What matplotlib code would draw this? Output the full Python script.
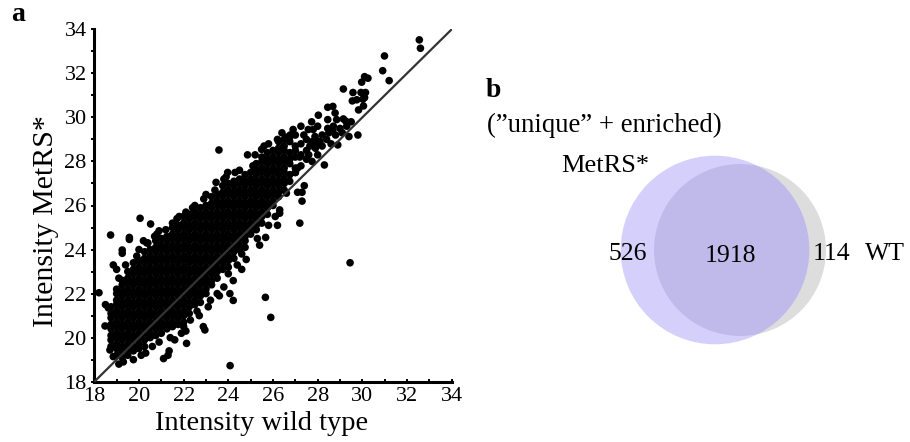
import numpy as np
import matplotlib
matplotlib.use("Agg")
import matplotlib.pyplot as plt
from matplotlib.patches import Circle

plt.rcParams['font.family'] = ['Liberation Serif', 'DejaVu Serif']

# ---- panel a: intensity scatter ----
# dense part of the cloud, column by column: wild type -> MetRS* values
core_cols = {
    18.75: [19.6, 19.9, 20.1, 20.4, 20.6, 20.9, 21.1, 21.4],
    19.00: [19.2, 19.5, 19.7, 20.0, 20.2, 20.5, 20.7, 21.0, 21.2, 21.5, 21.7, 22.0, 22.2],
    19.25: [19.1, 19.4, 19.6, 19.9, 20.1, 20.4, 20.6, 20.9, 21.1, 21.4, 21.6, 21.9, 22.1, 22.4, 22.6],
    19.50: [19.2, 19.5, 19.7, 20.0, 20.2, 20.5, 20.7, 21.0, 21.2, 21.5, 21.7, 22.0, 22.2, 22.5, 22.7, 23.0],
    19.75: [19.4, 19.6, 19.9, 20.1, 20.4, 20.6, 20.9, 21.1, 21.4, 21.6, 21.9, 22.1, 22.4, 22.6, 22.9, 23.1, 23.4],
    20.00: [19.5, 19.7, 20.0, 20.2, 20.5, 20.7, 21.0, 21.2, 21.5, 21.7, 22.0, 22.2, 22.5, 22.7, 23.0, 23.2, 23.5],
    20.25: [19.6, 19.9, 20.1, 20.4, 20.6, 20.9, 21.1, 21.4, 21.6, 21.9, 22.1, 22.4, 22.6, 22.9, 23.1, 23.4, 23.6, 23.9],
    20.50: [20.0, 20.2, 20.5, 20.7, 21.0, 21.2, 21.5, 21.7, 22.0, 22.2, 22.5, 22.7, 23.0, 23.2, 23.5, 23.7, 24.0],
    20.75: [20.1, 20.4, 20.6, 20.9, 21.1, 21.4, 21.6, 21.9, 22.1, 22.4, 22.6, 22.9, 23.1, 23.4, 23.6, 23.9, 24.1, 24.4],
    21.00: [20.2, 20.5, 20.7, 21.0, 21.2, 21.5, 21.7, 22.0, 22.2, 22.5, 22.7, 23.0, 23.2, 23.5, 23.7, 24.0, 24.2, 24.5],
    21.25: [20.4, 20.6, 20.9, 21.1, 21.4, 21.6, 21.9, 22.1, 22.4, 22.6, 22.9, 23.1, 23.4, 23.6, 23.9, 24.1, 24.4, 24.6],
    21.50: [20.5, 20.7, 21.0, 21.2, 21.5, 21.7, 22.0, 22.2, 22.5, 22.7, 23.0, 23.2, 23.5, 23.7, 24.0, 24.2, 24.5, 24.7, 25.0],
    21.75: [20.6, 20.9, 21.1, 21.4, 21.6, 21.9, 22.1, 22.4, 22.6, 22.9, 23.1, 23.4, 23.6, 23.9, 24.1, 24.4, 24.6, 24.9, 25.1],
    22.00: [20.7, 21.0, 21.2, 21.5, 21.7, 22.0, 22.2, 22.5, 22.7, 23.0, 23.2, 23.5, 23.7, 24.0, 24.2, 24.5, 24.7, 25.0, 25.2, 25.5],
    22.25: [21.1, 21.4, 21.6, 21.9, 22.1, 22.4, 22.6, 22.9, 23.1, 23.4, 23.6, 23.9, 24.1, 24.4, 24.6, 24.9, 25.1, 25.4, 25.6],
    22.50: [21.5, 21.7, 22.0, 22.2, 22.5, 22.7, 23.0, 23.2, 23.5, 23.7, 24.0, 24.2, 24.5, 24.7, 25.0, 25.2, 25.5, 25.7],
    22.75: [21.6, 21.9, 22.1, 22.4, 22.6, 22.9, 23.1, 23.4, 23.6, 23.9, 24.1, 24.4, 24.6, 24.9, 25.1, 25.4, 25.6, 25.9],
    23.00: [22.0, 22.2, 22.5, 22.7, 23.0, 23.2, 23.5, 23.7, 24.0, 24.2, 24.5, 24.7, 25.0, 25.2, 25.5, 25.7, 26.0],
    23.25: [22.4, 22.6, 22.9, 23.1, 23.4, 23.6, 23.9, 24.1, 24.4, 24.6, 24.9, 25.1, 25.4, 25.6, 25.9, 26.1, 26.4],
    23.50: [22.7, 23.0, 23.2, 23.5, 23.7, 24.0, 24.2, 24.5, 24.7, 25.0, 25.2, 25.5, 25.7, 26.0, 26.2, 26.5],
    23.75: [23.1, 23.4, 23.6, 23.9, 24.1, 24.4, 24.6, 24.9, 25.1, 25.4, 25.6, 25.9, 26.1, 26.4, 26.6, 26.9],
    24.00: [23.2, 23.5, 23.7, 24.0, 24.2, 24.5, 24.7, 25.0, 25.2, 25.5, 25.7, 26.0, 26.2, 26.5, 26.7, 27.0],
    24.25: [23.6, 23.9, 24.1, 24.4, 24.6, 24.9, 25.1, 25.4, 25.6, 25.9, 26.1, 26.4, 26.6, 26.9, 27.1],
    24.50: [24.0, 24.2, 24.5, 24.7, 25.0, 25.2, 25.5, 25.7, 26.0, 26.2, 26.5, 26.7, 27.0, 27.2],
    24.75: [24.4, 24.6, 24.9, 25.1, 25.4, 25.6, 25.9, 26.1, 26.4, 26.6, 26.9, 27.1, 27.4],
    25.00: [24.7, 25.0, 25.2, 25.5, 25.7, 26.0, 26.2, 26.5, 26.7, 27.0, 27.2, 27.5],
    25.25: [24.9, 25.1, 25.4, 25.6, 25.9, 26.1, 26.4, 26.6, 26.9, 27.1, 27.4, 27.6, 27.9],
    25.50: [25.2, 25.5, 25.7, 26.0, 26.2, 26.5, 26.7, 27.0, 27.2, 27.5, 27.7, 28.0, 28.2],
    25.75: [25.6, 25.9, 26.1, 26.4, 26.6, 26.9, 27.1, 27.4, 27.6, 27.9, 28.1, 28.4],
    26.00: [26.0, 26.2, 26.5, 26.7, 27.0, 27.2, 27.5, 27.7, 28.0, 28.2, 28.5],
    26.25: [26.4, 26.6, 26.9, 27.1, 27.4, 27.6, 27.9, 28.1, 28.4, 28.6, 28.9],
    26.50: [26.7, 27.0, 27.2, 27.5, 27.7, 28.0, 28.2, 28.5, 28.7, 29.0],
    26.75: [27.1, 27.4, 27.9, 28.1, 28.4, 28.9, 29.1],
    27.00: [27.5, 27.7, 28.2, 28.5, 28.7, 29.2],
}

# scattered points around the dense band
extra_wt = [18.21, 18.50, 18.48, 18.63, 18.70, 18.85, 18.73, 18.85, 19.00, 19.25, 19.25, 19.57,
            19.57, 19.10, 19.30, 19.75, 20.05, 20.52, 20.20, 20.00, 20.35, 20.70, 20.90, 21.10,
            21.30, 21.35, 20.60, 20.30, 21.60, 22.13, 21.90, 22.10, 21.50, 21.80, 22.10, 22.50,
            22.30, 22.60, 22.88, 22.95, 22.70, 23.20, 23.50, 23.60, 23.00, 23.45, 23.58, 23.97,
            23.80, 24.08, 24.07, 24.22, 24.22, 24.00, 24.40, 24.75, 24.80, 24.60, 24.30, 24.86,
            25.10, 25.49, 25.30, 25.67, 25.66, 25.90, 25.80, 26.20, 26.30, 26.30, 26.10, 26.20,
            25.80, 26.60, 27.10, 27.20, 27.30, 29.45,
            26.60, 26.77, 26.90, 27.25, 27.38, 27.50, 27.58, 27.65, 27.73, 27.80, 27.88, 27.20,
            27.10, 27.00, 27.40, 27.30, 27.90, 28.10, 28.20, 28.00, 28.03, 28.30, 28.45, 28.45,
            28.68, 28.45, 28.68, 28.78, 28.85, 29.15, 29.26, 28.80, 28.90, 29.40, 29.80, 29.15,
            29.58, 29.94, 30.14, 29.55, 29.75, 30.02, 30.10, 29.83, 30.05, 29.97, 30.10, 30.25,
            30.91, 30.99, 31.20, 32.55, 32.60,
            28.40, 28.60, 28.50, 29.00, 29.10, 29.30, 28.20, 28.00, 27.60, 27.90, 28.70, 29.50,
            27.25, 27.25, 27.25, 27.50, 27.50, 27.75, 27.75, 28.00,
            19.10, 19.40, 19.90, 20.40, 20.80, 21.20, 21.70, 22.40, 22.90, 23.40, 23.90, 24.50,
            25.20, 25.60, 26.40, 20.10, 20.90, 21.40, 22.00, 23.10, 23.80, 24.60, 25.40]
extra_metrs = [22.04, 21.50, 20.53, 21.35, 19.44, 19.14, 24.66, 23.30, 23.10, 23.98, 23.83, 24.55,
               24.46, 18.80, 18.90, 19.00, 25.42, 25.16, 24.40, 24.00, 24.30, 24.60, 24.85, 19.05,
               19.20, 19.40, 19.60, 19.30, 19.90, 19.74, 20.20, 20.30, 25.20, 25.50, 25.70, 26.00,
               20.80, 21.20, 20.50, 20.35, 21.00, 21.70, 22.00, 21.90, 26.50, 27.05, 28.52, 27.50,
               27.20, 18.73, 22.00, 21.69, 22.59, 22.90, 23.30, 24.10, 23.55, 23.80, 27.50, 28.30,
               27.80, 28.55, 24.50, 24.55, 21.83, 20.92, 25.10, 25.10, 25.80, 25.65, 25.50, 29.00,
               28.80, 26.56, 26.60, 25.20, 26.20, 23.40,
               29.10, 29.20, 29.45, 29.60, 29.20, 29.00, 29.45, 28.70, 29.80, 29.45, 29.13, 28.20,
               27.70, 27.50, 26.90, 26.60, 28.60, 28.90, 28.70, 28.30, 30.10, 27.84, 29.90, 29.50,
               29.43, 30.46, 30.50, 30.20, 29.90, 29.93, 29.83, 29.20, 28.75, 29.13, 29.20, 31.29,
               31.13, 31.13, 31.13, 30.75, 30.80, 30.83, 30.90, 30.34, 30.52, 31.60, 31.85, 31.78,
               32.12, 32.79, 31.67, 33.52, 33.14,
               29.00, 28.80, 29.30, 29.50, 29.30, 29.60, 29.20, 29.60, 28.30, 29.00, 29.60, 29.80,
               27.80, 28.30, 28.80, 28.10, 28.50, 28.00, 28.90, 28.80,
               22.70, 23.30, 23.70, 24.30, 24.70, 24.90, 25.40, 25.90, 26.30, 26.70, 27.30, 27.60,
               28.30, 28.70, 29.30, 19.20, 19.80, 20.00, 20.50, 21.40, 22.30, 23.10, 24.20]

axis_ticks = [18, 20, 22, 24, 26, 28, 30, 32, 34]

# ---- panel b: Venn counts ----
only_metrs = 526
both = 1918
only_wt = 114

wt_vals = []
metrs_vals = []
for xc, ys in core_cols.items():
    wt_vals += [xc] * len(ys)
    metrs_vals += ys
wt_vals = np.array(wt_vals + extra_wt)
metrs_vals = np.array(metrs_vals + extra_metrs)

W, H = 910, 442
fig = plt.figure(figsize=(W / 100, H / 100), dpi=100)

ax = fig.add_axes([94.3 / W, 1 - 381.7 / H, 357.4 / W, 352.4 / H])
ax.scatter(wt_vals, metrs_vals, s=30, c='black', edgecolors='none', zorder=2)
ax.plot([18, 34], [18, 34], color='#333333', lw=1.6, zorder=3)
ax.set_xlim(18, 34)
ax.set_ylim(18, 34)
for side in ['top', 'right']:
    ax.spines[side].set_visible(False)
for side in ['left', 'bottom']:
    ax.spines[side].set_linewidth(2.2)
ax.set_xticks(axis_ticks)
ax.set_yticks(axis_ticks)
ax.set_xticks(range(19, 34, 2), minor=True)
ax.set_yticks(range(19, 34, 2), minor=True)
ax.tick_params(axis='both', which='both', labelsize=16, width=1.4, length=2.5)
ax.tick_params(axis='x', which='both', direction='in', pad=4)
ax.tick_params(axis='y', which='both', direction='out', pad=3)
ax.set_xlabel('Intensity wild type', fontsize=20.5)
ax.set_ylabel('Intensity MetRS*', fontsize=21.5)
ax.xaxis.set_label_coords((262 - 94.3) / 357.4, -(411 - 381.7) / 352.4)
ax.yaxis.set_label_coords((46 - 94.3) / 357.4, (381.7 - 221) / 352.4)
ax.yaxis.label.set_va('center')

fig.text(11 / W, 1 - 21 / H, 'a', fontsize=20, fontweight='bold', va='baseline')

# Venn: circle radii follow the set sizes
axv = fig.add_axes([470 / W, 0, 440 / W, 1])
axv.set_xlim(470, 910)
axv.set_ylim(442, 0)
axv.axis('off')

n_a = only_metrs + both
n_b = only_wt + both
scale = 94.3 / np.sqrt(n_a)
r_a = scale * np.sqrt(n_a)
r_b = scale * np.sqrt(n_b)

ca = (715, 250)
cb = (740, 250)
axv.add_patch(Circle(cb, r_b, facecolor='#dddddd', edgecolor='none'))
axv.add_patch(Circle(ca, r_a, facecolor='#d5d0fb', edgecolor='none'))
overlap = Circle(ca, r_a, facecolor='#bfbaea', edgecolor='none')
axv.add_patch(overlap)
clip = Circle(cb, r_b, transform=axv.transData)
overlap.set_clip_path(clip)

axv.text(486, 96.7, 'b', fontsize=20, fontweight='bold', va='baseline')
axv.text(486.5, 132, '(\u201dunique\u201d + enriched)', fontsize=19.3, va='baseline')
axv.text(561.5, 172, 'MetRS*', fontsize=19, va='baseline')
axv.text(647, 260, str(only_metrs), fontsize=18.5, va='baseline', ha='right')
axv.text(730.5, 262, str(both), fontsize=18.5, va='baseline', ha='center')
axv.text(813, 260, str(only_wt), fontsize=18.5, va='baseline')
axv.text(865, 260, 'WT', fontsize=18.5, va='baseline')

fig.savefig('out.png', dpi=100)
